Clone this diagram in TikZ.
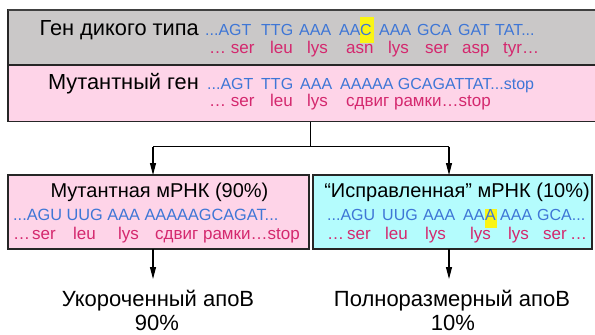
\documentclass[tikz,border=0pt]{standalone}
\usepackage{fontspec}
\setmainfont{Liberation Sans}
\usetikzlibrary{arrows.meta}
\definecolor{boxgray}{RGB}{202,200,200}
\definecolor{boxpink}{RGB}{254,212,232}
\definecolor{boxcyan}{RGB}{180,252,253}
\definecolor{seqblue}{RGB}{62,118,214}
\definecolor{aared}{RGB}{212,40,110}
\definecolor{hl}{RGB}{250,245,20}
\begin{document}
\begin{tikzpicture}[x=1pt,y=-1pt,
  box/.style={draw=black!85, line width=1.3pt, inner sep=0pt, outer sep=0pt, anchor=north west},
  lbl/.style={font=\fontsize{21.8}{24}\selectfont, inner sep=0pt, anchor=base east},
  ttl/.style={font=\fontsize{20}{24}\selectfont, inner sep=0pt, anchor=base},
  sq/.style={font=\fontsize{16}{18}\selectfont, text=seqblue, inner sep=0pt, anchor=base west},
  aa/.style={font=\fontsize{17}{19}\selectfont, text=aared, inner sep=0pt, anchor=base west},
  prod/.style={font=\fontsize{22}{24}\selectfont, inner sep=0pt, anchor=base},
  conn/.style={line width=1.1pt, black},
  arr/.style={conn, -{Triangle[length=12pt,width=6pt]}}]
\clip (0,0) rectangle (595,335);
% boxes
\node[box, fill=boxgray, minimum width=600pt, minimum height=55pt] (wt) at (8,10) {};
\draw[line width=2.5pt, black!75] (wt.north west) -- (wt.north east);
\node[box, fill=boxpink, minimum width=600pt, minimum height=56.5pt] (mut) at (8,65) {};
\node[box, fill=boxpink, minimum width=301pt, minimum height=74pt] (m1) at (8,175) {};
\node[box, fill=boxcyan, minimum width=279pt, minimum height=74pt] (m2) at (313,175) {};
% highlights
\fill[hl] (360,17) rectangle (374,43);
\fill[hl] (485,209) rectangle (497,228);
% wild type
\node[lbl] (wtl) at (199,35) {Ген дикого типа};
\node[sq] (w1) at (205,35) {...AGT};
\node[sq] (w2) at (261,35) {TTG};
\node[sq] (w3) at (299,35) {AAA};
\node[sq] (w4) at (339,35) {AA};
\node[sq] (w4c) at (360,35) {C};
\node[sq] (w5) at (379,35) {AAA};
\node[sq] (w6) at (417,35) {GCA};
\node[sq] (w7) at (458,35) {GAT};
\node[sq] (w8) at (495,35) {TAT...};
\node[aa] (wa1) at (209,53.3) {… ser};
\node[aa] (wa2) at (270,53.3) {leu};
\node[aa] (wa3) at (307,53.3) {lys};
\node[aa] (wa4) at (346,53.3) {asn};
\node[aa] (wa5) at (388,53.3) {lys};
\node[aa] (wa6) at (425,53.3) {ser};
\node[aa] (wa7) at (462,53.3) {asp};
\node[aa] (wa8) at (503,53.3) {tyr…};
% mutant gene
\node[lbl] (mutl) at (199,89.3) {Мутантный ген};
\node[sq] (u1) at (207,89.3) {...AGT};
\node[sq] (u2) at (261,89.3) {TTG};
\node[sq] (u3) at (300,89.3) {AAA};
\node[sq] (u4) at (340,89.3) {AAAAA GCAGATTAT...stop};
\node[aa] (ua1) at (209,106.7) {… ser};
\node[aa] (ua2) at (270,106.7) {leu};
\node[aa] (ua3) at (307,106.7) {lys};
\node[aa] (ua4) at (346,106.7) {сдвиг рамки…stop};
% connectors
\coordinate (split) at (310.7,146.7);
\coordinate (lj) at (153,146.7);
\coordinate (rj) at (449,146.7);
\draw[conn] (mut.south -| split) -- (split);
\draw[conn] (lj) -- (rj);
\draw[arr] (lj) -- (lj |- m1.north);
\draw[arr] (rj) -- (rj |- m2.north);
% left mRNA
\node[ttl] (m1t) at (159.5,197.7) {Мутантная мРНК (90\%)};
\node[sq, font=\fontsize{16.3}{18}\selectfont] (l1) at (13,220.7) {...AGU UUG AAA AAAAAGCAGAT...};
\node[aa] (la1) at (13,239.3) {…};
\node[aa] (la2) at (32,239.3) {ser};
\node[aa] (la3) at (73,239.3) {leu};
\node[aa] (la4) at (118,239.3) {lys};
\node[aa] (la5) at (155,239.3) {сдвиг рамки…stop};
% right mRNA
\node[ttl] (m2t) at (457,197.7) {“Исправленная” мРНК (10\%)};
\node[sq] (r1) at (327,220.7) {...AGU};
\node[sq] (r2) at (382,220.7) {UUG};
\node[sq] (r3) at (423,220.7) {AAA};
\node[sq] (r4) at (463,220.7) {AA};
\node[sq] (r4a) at (485,220.7) {A};
\node[sq] (r5) at (500,220.7) {AAA};
\node[sq] (r6) at (537,220.7) {GCA...};
\node[aa] (ra1) at (327,239.3) {…};
\node[aa] (ra2) at (347,239.3) {ser};
\node[aa] (ra3) at (385,239.3) {leu};
\node[aa] (ra4) at (425,239.3) {lys};
\node[aa] (ra5) at (470,239.3) {lys};
\node[aa] (ra6) at (508,239.3) {lys};
\node[aa] (ra7) at (543,239.3) {ser};
\node[aa] (ra8) at (570,239.3) {…};
% products
\coordinate (lt) at (153,279);
\coordinate (rt) at (449,279);
\draw[arr] (m1.south -| lt) -- (lt);
\draw[arr] (m2.south -| rt) -- (rt);
\node[prod] (p1) at (158,306) {Укороченный апоВ};
\node[prod] (p1b) at (157,330.5) {90\%};
\node[prod] (p2) at (452,306) {Полноразмерный апоВ};
\node[prod] (p2b) at (453,330.5) {10\%};
\end{tikzpicture}
\end{document}
